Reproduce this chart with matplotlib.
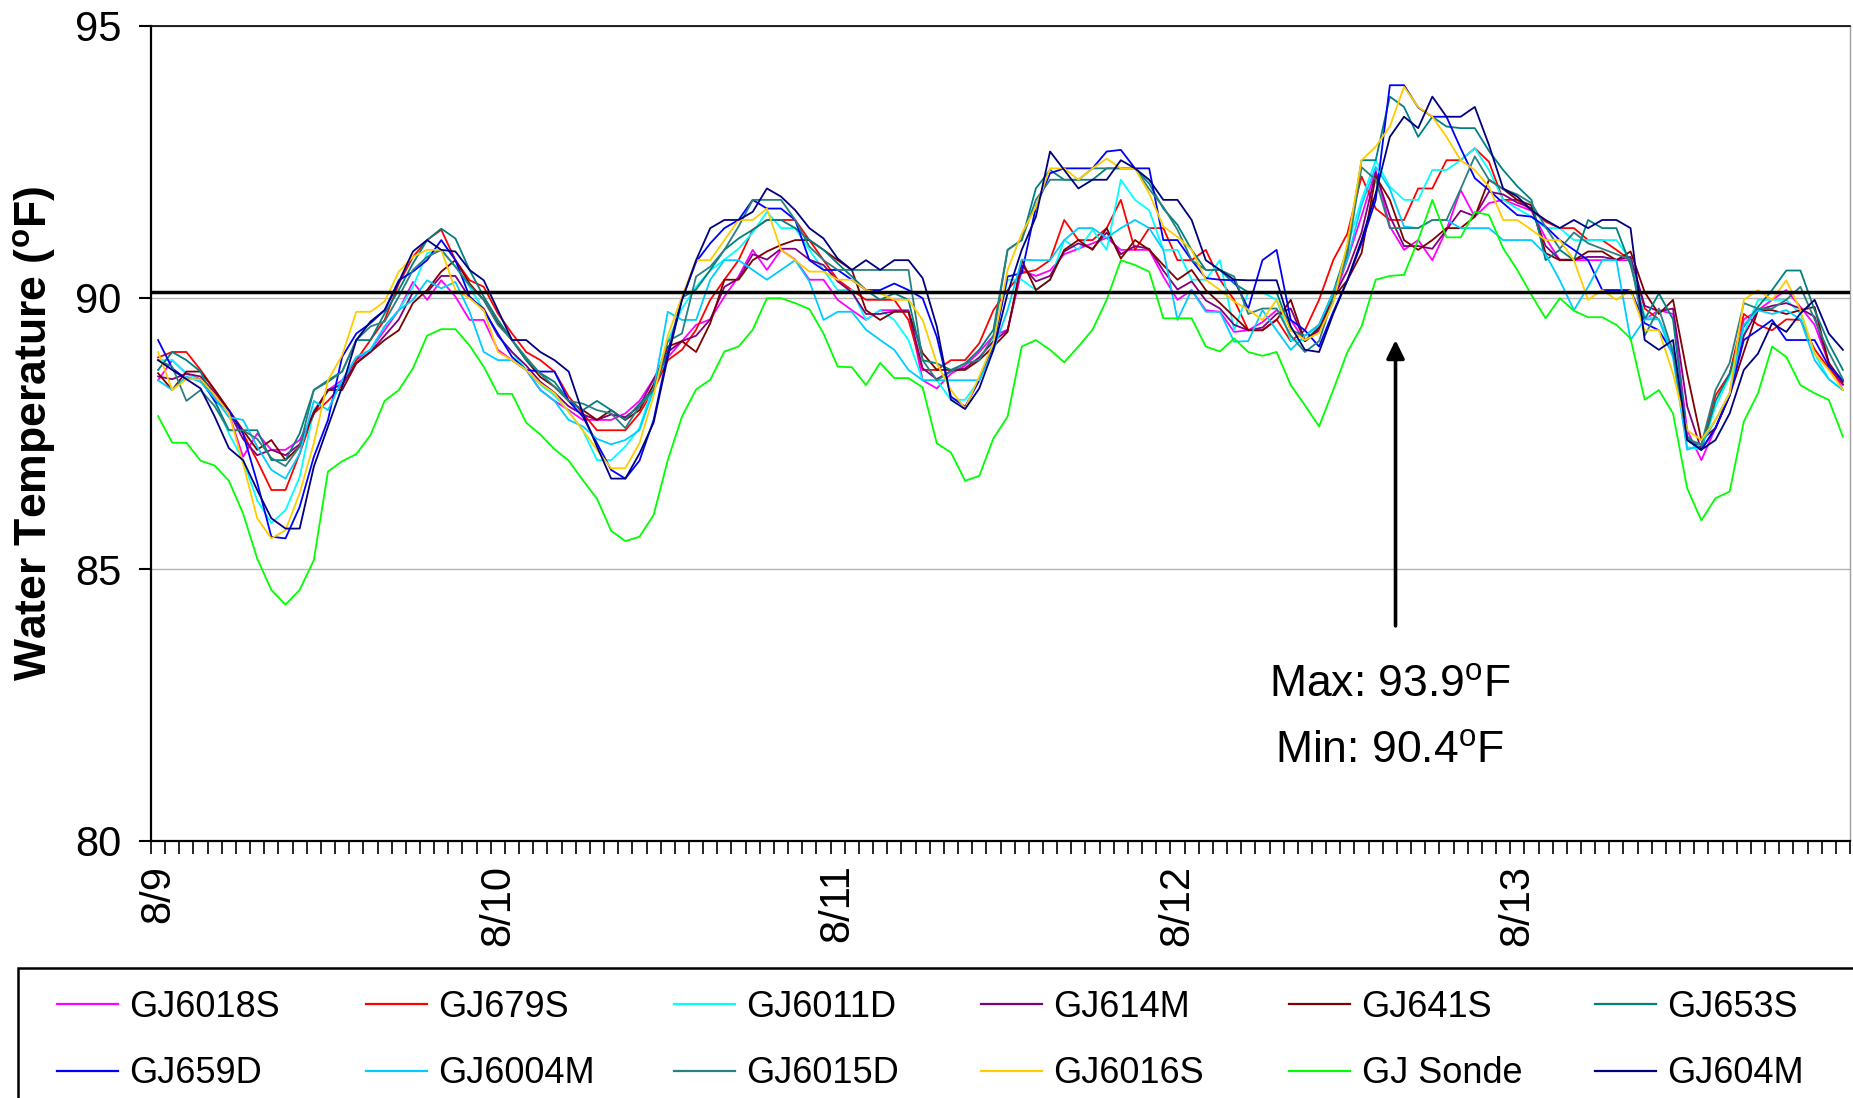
import matplotlib
matplotlib.use('Agg')
import matplotlib.pyplot as plt
from matplotlib.patches import Rectangle
import numpy as np

plt.rcParams['font.family'] = ['Liberation Sans', 'DejaVu Sans']
plt.rcParams['mathtext.fontset'] = 'custom'
plt.rcParams['mathtext.rm'] = 'Liberation Sans'
plt.rcParams['mathtext.bf'] = 'Liberation Sans:bold'

# ---------------- data ----------------
date_labels = ['8/9', '8/10', '8/11', '8/12', '8/13']
date_positions = [0, 24, 48, 72, 96]
threshold = 90.1
max_text = r'Max: 93.9$^{\mathrm{o}}$F'
min_text = r'Min: 90.4$^{\mathrm{o}}$F'

series_names = ['GJ6018S', 'GJ679S', 'GJ6011D', 'GJ614M', 'GJ641S', 'GJ653S',
                'GJ659D', 'GJ6004M', 'GJ6015D', 'GJ6016S', 'GJ Sonde', 'GJ604M']
series_colors = ['#FF00FF', '#FF0000', '#00FFFF', '#800080', '#800000', '#008080',
                 '#0000FF', '#00CCFF', '#2A7F7F', '#FFCC00', '#00FF00', '#000080']

GJ6018S = [88.48, 88.85, 88.6, 88.5, 88.2, 87.87, 87.07, 87.5, 87.2, 87.2, 87.38, 87.87,
           88.3, 88.48, 88.85, 89.04, 89.4, 89.77, 90.29, 89.96, 90.32, 90.02, 89.59, 89.59,
           89.04, 88.85, 88.67, 88.3, 88.1, 87.93, 87.75, 87.75, 87.75, 87.87, 88.1, 88.5,
           88.9, 89.2, 89.5, 89.6, 90.02, 90.39, 90.88, 90.51, 90.88, 90.7, 90.33, 90.33,
           89.96, 89.77, 89.59, 89.77, 89.77, 89.77, 88.48, 88.33, 88.6, 88.75, 89.0, 89.3,
           89.41, 90.5, 90.4, 90.5, 90.8, 90.9, 91.0, 91.1, 90.88, 90.88, 90.88, 90.39,
           89.96, 90.14, 89.77, 89.74, 89.37, 89.4, 89.55, 89.77, 89.59, 89.2, 89.4, 89.96,
           90.7, 91.5, 92.35, 91.31, 90.88, 91.06, 90.69, 91.25, 91.98, 91.49, 91.74, 91.8,
           91.7, 91.6, 91.1, 90.69, 90.69, 90.69, 90.69, 90.69, 90.69, 89.6, 89.77, 89.7,
           87.56, 87.01, 87.6, 88.24, 89.6, 89.77, 89.96, 90.14, 89.83, 89.5, 88.8, 88.3]

GJ679S = [88.9, 89.0, 89.0, 88.67, 88.3, 87.93, 87.5, 87.0, 86.46, 86.46, 87.13, 87.87,
          88.1, 88.39, 88.85, 89.22, 89.59, 90.26, 90.75, 91.06, 91.25, 90.69, 90.32, 90.2,
          89.71, 89.34, 89.0, 88.85, 88.64, 88.18, 87.87, 87.56, 87.56, 87.56, 87.87, 88.3,
          88.85, 89.04, 89.41, 89.96, 90.33, 90.69, 91.25, 91.43, 91.43, 91.43, 91.06, 90.69,
          90.33, 90.14, 89.96, 89.96, 89.96, 89.59, 88.67, 88.67, 88.85, 88.85, 89.16, 89.77,
          90.14, 90.45, 90.51, 90.69, 91.43, 91.06, 91.06, 91.28, 91.8, 90.88, 91.28, 91.28,
          90.69, 90.69, 90.88, 90.33, 89.96, 89.4, 89.4, 89.6, 89.2, 89.4, 89.96, 90.69,
          91.18, 92.23, 91.64, 91.43, 91.43, 92.01, 92.01, 92.53, 92.53, 92.75, 92.5, 91.8,
          91.8, 91.61, 91.4, 91.28, 91.28, 91.06, 91.06, 90.88, 90.69, 89.8, 89.6, 89.05,
          87.4, 87.25, 88.2, 88.6, 89.7, 89.5, 89.4, 89.6, 89.59, 89.05, 88.7, 88.4]

GJ6011D = [88.85, 88.85, 88.61, 88.48, 88.1, 87.5, 87.01, 86.27, 85.85, 86.09, 86.7, 87.93,
           88.27, 88.45, 88.79, 89.04, 89.47, 89.77, 90.2, 90.82, 90.88, 90.57, 90.2, 89.77,
           89.3, 89.0, 88.67, 88.4, 88.2, 87.9, 87.56, 87.01, 87.01, 87.26, 87.6, 88.4,
           89.2, 89.8, 90.2, 90.5, 90.7, 90.9, 91.2, 91.58, 91.28, 91.28, 90.88, 90.51,
           90.14, 90.14, 89.59, 89.77, 89.59, 89.22, 88.48, 88.48, 88.12, 88.12, 88.48, 89.22,
           90.33, 90.33, 90.14, 90.33, 91.06, 90.88, 91.25, 90.88, 92.17, 91.8, 91.61, 90.88,
           90.88, 90.33, 90.33, 90.69, 89.4, 90.1, 90.1, 89.96, 89.22, 89.22, 89.47, 89.96,
           90.94, 91.8, 92.53, 92.04, 91.8, 91.8, 92.35, 92.35, 92.53, 92.75, 92.35, 91.8,
           91.64, 91.49, 91.28, 91.28, 91.06, 91.06, 91.06, 91.06, 90.69, 89.65, 89.6, 89.05,
           87.25, 87.2, 88.0, 88.55, 89.34, 89.96, 89.96, 89.96, 89.71, 88.97, 88.5, 88.3]

GJ614M = [88.55, 88.5, 88.6, 88.55, 88.25, 87.9, 87.4, 87.1, 87.2, 87.1, 87.3, 87.9,
          88.3, 88.4, 88.8, 89.0, 89.3, 89.6, 90.1, 90.1, 90.4, 90.4, 90.0, 89.8,
          89.3, 89.0, 88.75, 88.45, 88.25, 88.0, 87.85, 87.75, 87.85, 87.8, 88.0, 88.5,
          89.0, 89.2, 89.3, 89.6, 90.2, 90.35, 90.8, 90.7, 90.9, 90.9, 90.7, 90.6,
          90.3, 90.1, 89.7, 89.7, 89.75, 89.75, 88.7, 88.5, 88.65, 88.7, 88.9, 89.2,
          89.4, 90.6, 90.3, 90.4, 90.85, 91.0, 90.9, 91.2, 90.8, 90.95, 90.9, 90.5,
          90.15, 90.3, 89.95, 89.8, 89.5, 89.4, 89.45, 89.7, 89.8, 89.2, 89.4, 90.0,
          90.5, 91.2, 92.3, 91.5, 90.95, 90.95, 90.9, 91.25, 91.6, 91.5, 91.95, 91.9,
          91.75, 91.65, 90.95, 90.7, 90.7, 90.75, 90.75, 90.7, 90.75, 89.85, 89.75, 89.8,
          88.0, 87.2, 87.6, 88.2, 89.3, 89.77, 89.85, 89.9, 89.8, 89.65, 88.8, 88.4]

GJ641S = [88.61, 88.3, 88.64, 88.64, 88.3, 87.93, 87.56, 87.2, 87.38, 87.01, 87.26, 87.87,
          88.3, 88.3, 88.79, 89.0, 89.22, 89.4, 89.9, 90.14, 90.48, 90.69, 90.26, 89.96,
          89.53, 89.22, 88.85, 88.54, 88.36, 88.1, 87.93, 87.75, 87.93, 87.75, 87.93, 88.4,
          89.1, 89.2, 89.0, 89.53, 90.33, 90.33, 90.69, 90.85, 90.97, 91.06, 91.06, 90.88,
          90.69, 90.51, 89.77, 89.59, 89.74, 89.74, 88.98, 88.67, 88.67, 88.67, 88.85, 89.1,
          89.37, 90.69, 90.14, 90.33, 90.88, 91.06, 90.88, 91.28, 90.72, 91.06, 90.88, 90.6,
          90.33, 90.51, 90.14, 89.9, 89.65, 89.4, 89.4, 89.59, 89.96, 89.2, 89.45, 90.0,
          90.32, 90.82, 92.23, 91.8, 91.06, 90.88, 91.06, 91.28, 91.28, 91.49, 92.17, 92.0,
          91.8, 91.7, 90.82, 90.69, 90.69, 90.85, 90.85, 90.69, 90.85, 90.1, 89.7, 89.96,
          88.6, 87.38, 87.6, 88.2, 89.0, 89.77, 89.77, 89.7, 89.77, 89.83, 88.8, 88.45]

GJ653S = [88.67, 89.0, 88.85, 88.64, 88.1, 87.56, 87.56, 87.56, 87.01, 87.01, 87.5, 88.3,
          88.48, 88.64, 89.22, 89.22, 89.71, 90.14, 90.63, 91.06, 91.27, 91.09, 90.51, 90.02,
          89.59, 89.22, 88.85, 88.61, 88.45, 88.1, 87.93, 88.1, 87.93, 87.75, 88.05, 88.3,
          89.0, 90.0, 90.15, 90.51, 90.88, 91.09, 91.25, 91.43, 91.43, 91.28, 91.06, 90.88,
          90.63, 90.39, 90.14, 89.96, 90.08, 89.96, 88.85, 88.79, 88.67, 88.79, 89.04, 89.41,
          90.88, 91.06, 92.01, 92.35, 92.17, 92.17, 92.17, 92.38, 92.38, 92.38, 92.1, 91.64,
          91.34, 90.88, 90.51, 90.51, 90.26, 90.1, 90.1, 90.1, 89.4, 89.3, 89.5, 90.1,
          90.9, 92.53, 92.53, 93.7, 93.51, 92.96, 93.33, 93.15, 93.12, 93.12, 92.7, 92.35,
          92.05, 91.8, 90.69, 90.88, 90.69, 91.43, 91.28, 91.28, 90.6, 89.6, 90.08, 89.6,
          87.45, 87.2, 88.1, 88.6, 89.47, 89.83, 90.14, 90.5, 90.5, 89.77, 89.16, 88.67]

GJ659D = [89.22, 88.7, 88.5, 88.5, 88.1, 87.93, 87.5, 86.6, 85.6, 85.57, 86.15, 87.07,
          87.75, 88.91, 89.34, 89.53, 89.77, 90.32, 90.48, 90.69, 91.06, 90.69, 90.02, 89.77,
          89.34, 88.91, 88.67, 88.64, 88.64, 88.1, 87.81, 87.32, 86.83, 86.67, 87.0, 87.75,
          88.98, 89.96, 90.66, 91.0, 91.28, 91.43, 91.8, 91.64, 91.64, 91.43, 90.69, 90.51,
          90.51, 90.33, 90.14, 90.14, 90.26, 90.14, 89.99, 89.28, 88.18, 87.99, 88.48, 89.1,
          90.39, 90.45, 91.67, 92.29, 92.38, 92.38, 92.38, 92.69, 92.72, 92.38, 92.38, 91.06,
          91.06, 90.69, 90.36, 90.33, 90.32, 89.8, 90.69, 90.88, 89.59, 89.4, 89.1, 89.74,
          90.32, 91.0, 91.8, 93.91, 93.91, 93.5, 93.33, 93.33, 92.75, 92.2, 91.98, 91.74,
          91.52, 91.49, 91.31, 91.06, 90.88, 90.69, 90.14, 90.14, 90.14, 89.53, 89.4, 88.97,
          87.38, 87.2, 87.6, 88.2, 89.22, 89.4, 89.59, 89.22, 89.22, 89.22, 88.74, 88.48]

GJ6004M = [88.48, 88.3, 88.55, 88.45, 88.15, 87.8, 87.75, 87.26, 86.83, 86.67, 87.13, 88.1,
           87.93, 88.48, 88.91, 89.04, 89.47, 89.77, 89.96, 90.32, 90.17, 90.29, 89.74, 89.0,
           88.85, 88.85, 88.67, 88.3, 88.1, 87.75, 87.63, 87.4, 87.3, 87.38, 87.56, 88.3,
           89.74, 89.59, 89.59, 90.33, 90.69, 90.69, 90.51, 90.33, 90.51, 90.69, 90.3, 89.59,
           89.74, 89.74, 89.41, 89.22, 89.04, 88.67, 88.48, 88.48, 88.48, 88.48, 88.48, 89.04,
           89.77, 90.7, 90.69, 90.69, 91.06, 91.28, 91.28, 91.1, 91.28, 91.43, 91.28, 90.88,
           89.59, 90.14, 89.74, 89.74, 89.19, 89.2, 89.77, 89.4, 89.04, 89.3, 89.5, 90.1,
           90.7, 91.7, 92.41, 92.0, 91.31, 91.28, 91.43, 91.43, 91.28, 91.28, 91.28, 91.06,
           91.06, 91.06, 90.8, 90.32, 89.77, 90.2, 90.69, 90.69, 89.22, 89.6, 89.6, 88.9,
           87.2, 87.3, 87.75, 88.24, 89.5, 89.77, 89.7, 89.77, 89.6, 88.85, 88.5, 88.3]

GJ6015D = [88.85, 88.73, 88.1, 88.3, 88.0, 87.56, 87.56, 87.4, 87.05, 86.9, 87.26, 88.3,
           88.45, 88.64, 89.22, 89.47, 89.56, 90.02, 90.51, 90.75, 90.88, 90.57, 90.23, 89.96,
           89.5, 89.22, 88.9, 88.6, 88.36, 88.1, 88.05, 87.93, 87.87, 87.6, 88.0, 88.3,
           89.2, 89.34, 90.39, 90.57, 90.88, 91.31, 91.8, 91.8, 91.8, 91.43, 90.94, 90.69,
           90.51, 90.51, 90.51, 90.51, 90.51, 90.51, 88.85, 88.48, 88.64, 88.79, 88.85, 89.3,
           90.88, 91.06, 91.8, 92.17, 92.17, 92.17, 92.38, 92.38, 92.38, 92.38, 92.0, 91.67,
           91.25, 90.69, 90.51, 90.51, 90.39, 89.7, 89.8, 89.8, 89.3, 89.0, 89.2, 90.0,
           90.8, 92.4, 92.17, 91.28, 91.28, 91.28, 91.43, 91.43, 92.0, 92.6, 92.17, 92.0,
           91.9, 91.74, 91.3, 90.9, 91.2, 91.0, 90.9, 90.8, 90.7, 89.3, 89.8, 89.0,
           87.4, 87.3, 88.3, 88.8, 89.9, 89.8, 89.8, 89.96, 90.2, 89.6, 89.0, 88.5]

GJ6016S = [89.0, 88.3, 88.5, 88.5, 88.21, 87.87, 86.95, 85.94, 85.57, 85.72, 86.4, 87.32,
           88.48, 88.94, 89.74, 89.74, 89.93, 90.48, 90.75, 90.88, 90.88, 90.14, 89.99, 89.77,
           89.0, 88.85, 88.67, 88.42, 88.24, 87.9, 87.56, 87.2, 86.86, 86.86, 87.32, 88.2,
           89.3, 90.02, 90.69, 90.69, 91.06, 91.43, 91.43, 91.64, 90.88, 90.69, 90.48, 90.48,
           90.33, 90.33, 90.14, 90.08, 89.96, 89.96, 89.59, 88.79, 88.3, 87.96, 88.55, 89.16,
           90.51, 91.18, 91.67, 92.38, 92.38, 92.17, 92.38, 92.56, 92.38, 92.38, 91.92, 91.31,
           91.12, 90.88, 90.33, 90.14, 89.93, 89.78, 89.59, 89.96, 89.4, 89.22, 89.35, 89.9,
           91.0, 92.53, 92.78, 93.15, 93.88, 93.51, 93.33, 92.96, 92.53, 92.35, 92.04, 91.43,
           91.43, 91.25, 91.06, 91.06, 90.69, 89.96, 90.14, 89.96, 90.14, 89.4, 89.4, 88.6,
           87.56, 87.38, 87.75, 88.24, 89.96, 90.14, 89.96, 90.32, 89.77, 88.97, 88.67, 88.3]

GJ_Sonde = [87.82, 87.33, 87.33, 87.0, 86.91, 86.63, 86.03, 85.2, 84.62, 84.35, 84.62, 85.17,
            86.8, 86.99, 87.12, 87.47, 88.1, 88.3, 88.7, 89.3, 89.42, 89.42, 89.12, 88.73,
            88.23, 88.23, 87.7, 87.48, 87.21, 87.0, 86.64, 86.3, 85.71, 85.52, 85.6, 86.0,
            87.01, 87.81, 88.31, 88.49, 89.01, 89.1, 89.41, 89.99, 89.99, 89.9, 89.79, 89.34,
            88.73, 88.72, 88.39, 88.8, 88.52, 88.52, 88.35, 87.32, 87.15, 86.63, 86.72, 87.41,
            87.81, 89.1, 89.22, 89.04, 88.81, 89.1, 89.41, 89.96, 90.69, 90.6, 90.48, 89.62,
            89.62, 89.62, 89.1, 89.01, 89.25, 89.0, 88.93, 89.0, 88.39, 88.02, 87.63, 88.3,
            89.0, 89.47, 90.33, 90.4, 90.42, 91.06, 91.8, 91.11, 91.11, 91.58, 91.52, 90.91,
            90.51, 90.05, 89.62, 89.99, 89.76, 89.64, 89.64, 89.5, 89.25, 88.12, 88.3, 87.87,
            86.49, 85.9, 86.31, 86.43, 87.72, 88.24, 89.1, 88.91, 88.39, 88.24, 88.12, 87.44]

GJ604M = [88.85, 88.67, 88.5, 88.33, 87.81, 87.23, 87.01, 86.46, 85.94, 85.75, 85.75, 86.89,
          87.63, 88.36, 89.22, 89.56, 89.77, 90.29, 90.85, 91.06, 90.88, 90.85, 90.51, 90.32,
          89.77, 89.22, 89.22, 89.0, 88.85, 88.64, 87.87, 87.26, 86.67, 86.67, 87.13, 87.7,
          88.9, 89.96, 90.69, 91.28, 91.43, 91.43, 91.58, 92.01, 91.86, 91.61, 91.28, 91.09,
          90.72, 90.51, 90.69, 90.51, 90.69, 90.69, 90.36, 89.47, 88.12, 87.95, 88.33, 89.04,
          90.08, 90.88, 91.49, 92.69, 92.35, 92.01, 92.17, 92.17, 92.53, 92.38, 92.17, 91.8,
          91.8, 91.43, 90.69, 90.51, 90.33, 90.32, 90.32, 90.32, 89.47, 89.04, 89.0, 89.7,
          90.32, 91.06, 91.92, 92.96, 93.33, 93.12, 93.7, 93.33, 93.33, 93.51, 92.81, 92.01,
          91.86, 91.61, 91.43, 91.28, 91.43, 91.28, 91.43, 91.43, 91.28, 89.22, 89.04, 89.22,
          87.38, 87.2, 87.38, 87.87, 88.67, 88.97, 89.53, 89.37, 89.71, 89.96, 89.34, 89.04]

series_values = [GJ6018S, GJ679S, GJ6011D, GJ614M, GJ641S, GJ653S,
                 GJ659D, GJ6004M, GJ6015D, GJ6016S, GJ_Sonde, GJ604M]

# ---------------- figure ----------------
W, H = 1853, 1098
fig = plt.figure(figsize=(W / 100, H / 100), dpi=100)
ax_left, ax_right, ax_top, ax_bottom = 151, 1850, 26, 841
ax = fig.add_axes([ax_left / W, 1 - ax_bottom / H, (ax_right - ax_left) / W, (ax_bottom - ax_top) / H])

hours = np.arange(len(GJ604M))
lines = []
for name, vals, col in zip(series_names, series_values, series_colors):
    ln, = ax.plot(hours, vals, color=col, lw=1.3, label=name, zorder=3)
    lines.append(ln)

ax.set_xlim(-0.5, len(hours) - 0.5)
ax.set_ylim(80, 95)
ax.set_yticks([80, 85, 90, 95])
ax.yaxis.grid(True, color='#b3b3b3', lw=1.0, zorder=0)
ax.set_axisbelow(True)

ax.set_xticks(date_positions)
ax.set_xticklabels(date_labels, rotation=90)
ax.set_xticks(np.arange(-0.5, len(hours), 1.0), minor=True)
ax.tick_params(axis='x', which='major', length=0, pad=17, labelsize=30)
ax.tick_params(axis='x', which='minor', length=9, width=1.2, direction='out', color='black')
ax.tick_params(axis='y', which='major', length=9, width=1.5, direction='out', pad=12, labelsize=30)

for s in ['left', 'bottom']:
    ax.spines[s].set_linewidth(1.6)
    ax.spines[s].set_color('black')
ax.spines['top'].set_linewidth(1.2)
ax.spines['top'].set_color('black')
ax.spines['right'].set_linewidth(1.0)
ax.spines['right'].set_color('#a0a0a0')

ax.axhline(threshold, color='black', lw=2.5, zorder=5)

arrow_x = 87.4
ax.annotate('', xy=(arrow_x, 89.22), xytext=(arrow_x, 83.96),
            arrowprops=dict(arrowstyle='-|>,head_length=0.55,head_width=0.27',
                            color='black', lw=2.6, mutation_scale=20, shrinkA=0, shrinkB=0),
            zorder=6)
ax.text(87.0, 82.86, max_text, fontsize=32, ha='center', va='center', zorder=6)
ax.text(87.0, 81.66, min_text, fontsize=32, ha='center', va='center', zorder=6)

fig.text(35 / W, 1 - 433 / H, r'Water Temperature ($^{\mathbf{o}}$F)', rotation=90,
         fontsize=32, fontweight='bold', ha='center', va='center')

# legend: 6 evenly spaced columns of 2 rows (row-major order of series)
col_x = [57, 366, 674, 981, 1289, 1595]
for c in range(6):
    leg = fig.legend([lines[c], lines[c + 6]], [series_names[c], series_names[c + 6]],
                     ncol=1, loc='upper left', bbox_to_anchor=(col_x[c] / W, 1 - 990 / H),
                     frameon=False, fontsize=26, handlelength=1.68, handletextpad=0.33,
                     labelspacing=0.87, borderpad=0, borderaxespad=0)
    for lh in leg.get_lines():
        lh.set_linewidth(1.6)

fig.add_artist(Rectangle((18 / W, -0.2), 1.5, 0.2 + 1 - 968 / H, transform=fig.transFigure,
                         fill=False, edgecolor='black', lw=1.8, clip_on=False))

fig.savefig('out.png', dpi=100)
